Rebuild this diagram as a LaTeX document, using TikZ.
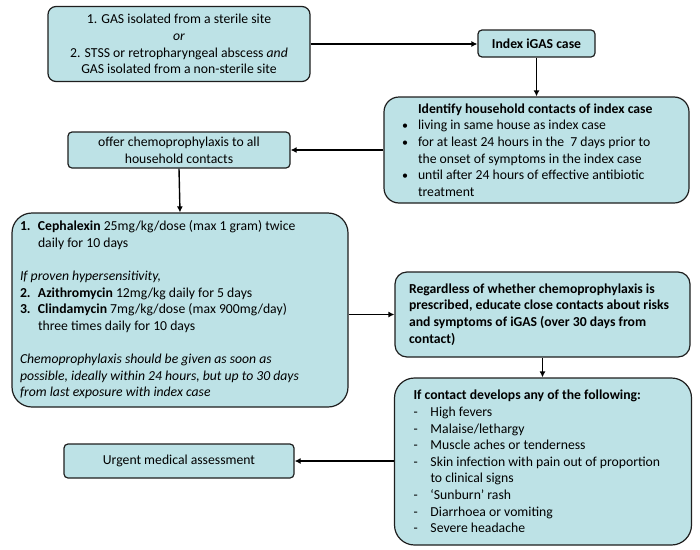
\documentclass[tikz,border=0pt]{standalone}
\usepackage{fontspec}
\setmainfont{Carlito}
\usetikzlibrary{arrows.meta}
\definecolor{boxfill}{RGB}{189,226,230}
\definecolor{boxline}{RGB}{30,30,30}
\newcommand{\itm}[2]{\par\hangindent=#1\hangafter=1\noindent\makebox[#1][l]{#2}\ignorespaces}
\newcommand{\boxtext}[3][0pt]{\parbox{#2}{\raggedright\parindent=0pt\leftskip=#1 #3}}
\tikzset{
  box/.style={draw=boxline, line width=1.2pt, fill=boxfill, inner sep=0pt,
    font=\fontsize{13.7}{16.6}\selectfont},
  conn/.style={line width=1.4pt, -{Latex[length=6pt,width=6pt]}},
}
\begin{document}
\begin{tikzpicture}[x=1pt,y=-1pt]
\useasboundingbox (0,0) rectangle (700,549);
\node[box, rounded corners=8pt, minimum width=262pt, minimum height=75pt, align=center]
  (crit) at (179,44) {1. GAS isolated from a sterile site\\\textit{or}\\2. STSS or retropharyngeal abscess \textit{and}\\GAS isolated from a non-sterile site};
\node[box, rounded corners=4pt, minimum width=117pt, minimum height=27pt, align=center, font=\fontsize{13.7}{16.6}\selectfont\bfseries]
  (index) at (536.5,43.5) {Index iGAS case};
\node[box, rounded corners=15pt, minimum width=305pt, minimum height=106pt]
  (ident) at (536.5,150) {\boxtext[8pt]{285pt}{%
  \hspace*{16pt}\textbf{Identify household contacts of index case}
  \itm{16pt}{\large•}living in same house as index case
  \itm{16pt}{\large•}for at least 24 hours in the\ \ 7 days prior to\newline the onset of symptoms in the index case
  \itm{16pt}{\large•}until after 24 hours of effective antibiotic\newline treatment}};
\node[box, rounded corners=4pt, minimum width=222pt, minimum height=36pt, align=center]
  (offer) at (179,150) {offer chemoprophylaxis to all\\household contacts};
\node[box, rounded corners=20pt, minimum width=336pt, minimum height=194pt]
  (ceph) at (180,310) {\boxtext{320pt}{%
  \itm{18pt}{\textbf{1.}}\textbf{Cephalexin} 25mg/kg/dose (max 1 gram) twice\newline daily for 10 days
  \par\vspace{16.6pt}
  \textit{If proven hypersensitivity,}
  \itm{18pt}{\textbf{2.}}\textbf{Azithromycin} 12mg/kg daily for 5 days
  \itm{18pt}{\textbf{3.}}\textbf{Clindamycin} 7mg/kg/dose (max 900mg/day)\newline three times daily for 10 days
  \par\vspace{16.6pt}
  \textit{Chemoprophylaxis should be given as soon as\newline possible, ideally within 24 hours, but up to 30 days\newline from last exposure with index case}}};
\node[box, rounded corners=12pt, minimum width=295pt, minimum height=85pt, font=\fontsize{13.7}{16.6}\selectfont\bfseries]
  (educ) at (542.5,314.5) {\boxtext{267pt}{Regardless of whether chemoprophylaxis is\newline prescribed, educate close contacts about risks\newline and symptoms of iGAS (over 30 days from\newline contact)}};
\node[box, rounded corners=20pt, minimum width=297pt, minimum height=167pt]
  (symp) at (543,461.5) {\boxtext[2pt]{263pt}{%
  \textbf{If contact develops any of the following:}
  \itm{17pt}{-}High fevers
  \itm{17pt}{-}Malaise/lethargy
  \itm{17pt}{-}Muscle aches or tenderness
  \itm{17pt}{-}Skin infection with pain out of proportion\newline to clinical signs
  \itm{17pt}{-}‘Sunburn’ rash
  \itm{17pt}{-}Diarrhoea or vomiting
  \itm{17pt}{-}Severe headache}};
\node[box, rounded corners=4pt, minimum width=230pt, minimum height=34pt, align=center]
  (urgent) at (179,461) {Urgent medical assessment};
\draw[conn] (crit.east) -- (crit.east -| index.west);
\draw[conn] (index.south) -- (ident.north);
\draw[conn] (ident.west) -- (ident.west -| offer.east);
\draw[conn] (offer.south) -- (ceph.north);
\draw[conn] (ceph.east |- educ.west) -- (educ.west);
\draw[conn] (educ.south) -- (educ.south |- symp.north);
\draw[conn] (symp.west |- urgent.east) -- (urgent.east);
\end{tikzpicture}
\end{document}
